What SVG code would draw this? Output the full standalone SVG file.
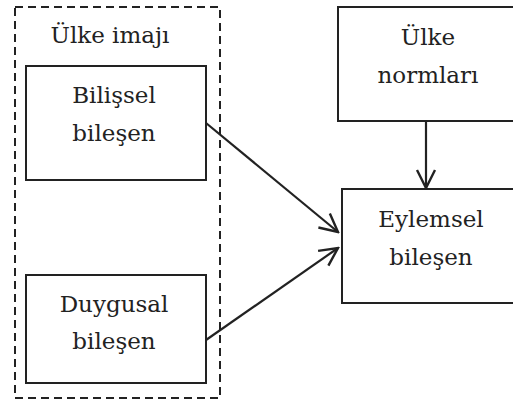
<svg xmlns="http://www.w3.org/2000/svg" width="513" height="409" viewBox="0 0 513 409">
  <defs>
    <style>
      .box { fill: #ffffff; stroke: #222222; stroke-width: 2; }
      .group { fill: none; stroke: #222222; stroke-width: 2; stroke-dasharray: 8 5; }
      .label { font-family: "DejaVu Serif", serif; font-size: 23px; fill: #222222; text-anchor: middle; }
      .edge { fill: none; stroke: #222222; stroke-width: 2.2; }
    </style>
    <marker id="open-arrow" viewBox="0 0 22 22" refX="20" refY="11" markerWidth="22" markerHeight="22" markerUnits="userSpaceOnUse" orient="auto">
      <path d="M2,2 L20,11 L2,20" fill="none" stroke="#222222" stroke-width="2.4"/>
    </marker>
  </defs>
  <rect width="513" height="409" fill="#ffffff"/>

  <g id="ulke-imaji">
    <rect class="group" x="15" y="7" width="205" height="391"/>
    <text class="label" x="110" y="43">Ülke imajı</text>
  </g>

  <g id="bilissel">
    <rect class="box" x="26" y="66" width="180" height="114"/>
    <text class="label" x="114" y="103">Bilişsel</text>
    <text class="label" x="114" y="141">bileşen</text>
  </g>

  <g id="duygusal">
    <rect class="box" x="26" y="275" width="180" height="108"/>
    <text class="label" x="114" y="312">Duygusal</text>
    <text class="label" x="114" y="349">bileşen</text>
  </g>

  <g id="ulke-normlari">
    <rect class="box" x="338" y="7" width="180" height="114"/>
    <text class="label" x="428" y="45">Ülke</text>
    <text class="label" x="428" y="83">normları</text>
  </g>

  <g id="eylemsel">
    <rect class="box" x="342" y="189" width="180" height="114"/>
    <text class="label" x="431" y="227">Eylemsel</text>
    <text class="label" x="431" y="265">bileşen</text>
  </g>

  <g id="connectors">
    <line class="edge" x1="206" y1="123" x2="338" y2="232" marker-end="url(#open-arrow)"/>
    <line class="edge" x1="206" y1="340" x2="338" y2="248" marker-end="url(#open-arrow)"/>
    <line class="edge" x1="426" y1="121" x2="426" y2="188" marker-end="url(#open-arrow)"/>
  </g>
</svg>
